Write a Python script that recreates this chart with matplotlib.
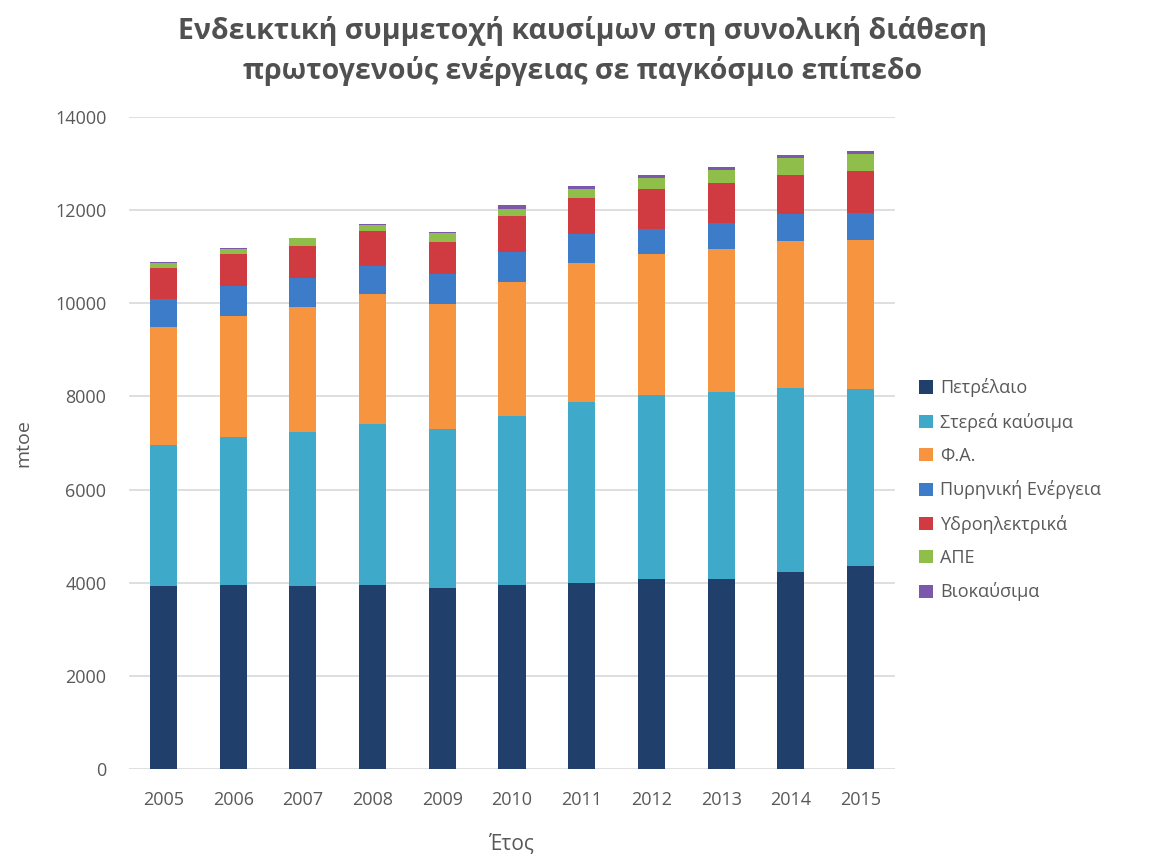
import matplotlib
matplotlib.use('Agg')
import matplotlib.pyplot as plt
import numpy as np

plt.rcParams['font.family'] = ['Open Sans', 'DejaVu Sans']

years = ['2005', '2006', '2007', '2008', '2009', '2010', '2011', '2012', '2013', '2014', '2015']

# mtoe
oil = [3920, 3960, 3925, 3960, 3880, 3960, 4000, 4080, 4080, 4225, 4350]
solid = [3040, 3170, 3320, 3445, 3430, 3625, 3870, 3945, 4015, 3965, 3805]
gas = [2535, 2600, 2680, 2790, 2665, 2880, 3000, 3025, 3060, 3145, 3195]
nuclear = [605, 640, 610, 600, 645, 635, 620, 535, 570, 585, 590]
hydro = [665, 680, 695, 755, 700, 770, 770, 860, 855, 845, 910]
renewables = [105, 105, 165, 130, 180, 165, 200, 250, 290, 345, 345]
biofuels = [15, 35, 15, 30, 35, 65, 55, 60, 55, 70, 85]

series = [
    ('Πετρέλαιο', oil, '#203f6b'),
    ('Στερεά καύσιμα', solid, '#3ea9c8'),
    ('Φ.Α.', gas, '#f79440'),
    ('Πυρηνική Ενέργεια', nuclear, '#3d7cc9'),
    ('Υδροηλεκτρικά', hydro, '#cf3b40'),
    ('ΑΠΕ', renewables, '#8fbf4a'),
    ('Βιοκαύσιμα', biofuels, '#7b57ae'),
]

fig = plt.figure(figsize=(11.69, 8.68), dpi=100)
ax = fig.add_axes([0.110, 0.1141, 0.656, 0.7511])

x = np.arange(len(years))
bottom = np.zeros(len(years))
for name, vals, color in series:
    ax.bar(x, vals, width=0.39, bottom=bottom, color=color, label=name, zorder=3)
    bottom += np.array(vals)

ax.set_ylim(0, 14000)
ax.set_xlim(-0.5, len(years) - 0.5)
ax.set_yticks(range(0, 14001, 2000))
ax.set_xticks(x)
ax.set_xticklabels(years)
ax.grid(axis='y', color='#d9d9d9', linewidth=1.2, zorder=0)
for s in ax.spines.values():
    s.set_visible(False)
ax.tick_params(length=0, labelsize=13, colors='#595959')
ax.tick_params(axis='x', pad=16)
ax.tick_params(axis='y', pad=16)

ax.set_ylabel('mtoe', fontsize=14, color='#595959', labelpad=16)
ax.set_xlabel('Έτος', fontsize=15, color='#595959', labelpad=18)

fig.text(0.498, 0.941, 'Ενδεικτική συμμετοχή καυσίμων στη συνολική διάθεση\nπρωτογενούς ενέργειας σε παγκόσμιο επίπεδο',
         ha='center', va='center', multialignment='center', fontsize=20.5, fontweight='bold',
         color='#505050', linespacing=1.45)

ax.legend(loc='center left', bbox_to_anchor=(1.01, 0.428), frameon=False, fontsize=13,
          handlelength=0.75, handleheight=0.75, handletextpad=0.4, labelspacing=0.85, labelcolor='#595959')

plt.savefig('out.png', dpi=100)
